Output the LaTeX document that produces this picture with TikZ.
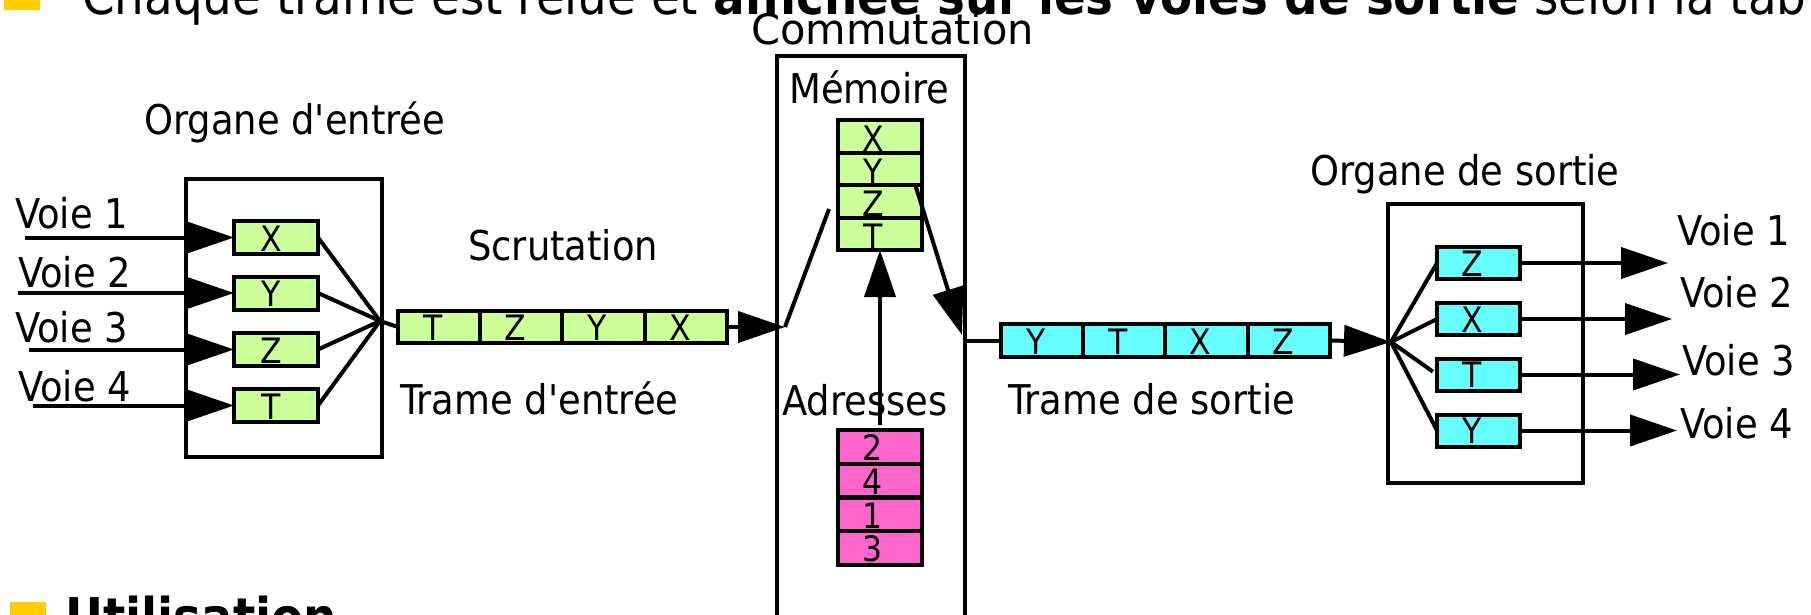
\documentclass[tikz,border=0pt]{standalone}
\usepackage{fontspec}
\setmainfont{DejaVu Sans Condensed}
\usetikzlibrary{arrows.meta,calc}
\definecolor{cgreen}{HTML}{CCFF99}
\definecolor{ccyan}{HTML}{66FFFF}
\definecolor{cpink}{HTML}{FF66CC}
\definecolor{cyellow}{HTML}{FFCC00}
\tikzset{
  box/.style={draw, line width=4pt, inner sep=0pt, outer sep=0pt},
  cell/.style={draw, line width=4pt, inner sep=0pt, outer sep=0pt, minimum width=84pt, minimum height=33pt},
  gcell/.style={cell, fill=cgreen},
  ccell/.style={cell, fill=ccyan},
  pcell/.style={cell, fill=cpink},
  lbl/.style={inner sep=0pt, anchor=base west, font=\fontsize{41}{49}\selectfont},
  lett/.style={inner sep=0pt, anchor=base, font=\fontsize{35}{42}\selectfont},
  conn/.style={line width=4pt},
  arr/.style={conn, -{Triangle[length=47pt,width=31pt]}},
  bullet/.style={fill=cyellow, inner sep=0pt, minimum size=36pt},
}
\begin{document}
\begin{tikzpicture}[x=1pt,y=-1pt]
\useasboundingbox (0,0) rectangle (1811,615);
\clip (0,0) rectangle (1811,615);

% title line (cut at top) and bottom bullet
\node[bullet] (b1) at (22,-8) {};
\node[anchor=base west, inner sep=0pt, font=\fontsize{52}{60}\selectfont] (title) at (82,15)
  {Chaque trame est relue et \textbf{affichée sur les voies de sortie} selon la tab};
\node[bullet] (b2) at (28,620) {};
\node[anchor=base west, inner sep=0pt, font=\bfseries\fontsize{52}{60}\selectfont] (util) at (65,635) {Utilisation};

% ---------------- input organ
\node[box, minimum width=196pt, minimum height=278pt] (inbox) at (284,318) {};
\node[lbl] (lOE) at (144,135) {Organe d\textquotesingle entrée};
\foreach \n/\y in {X/237.5, Y/293, Z/349.5, T/405.5}
  \node[gcell] (in\n) at (276,\y) {};
\foreach \n in {X,Y,Z,T}
  \node[lett] (inL\n) at ($(in\n.south)+(-5,-3)$) {\n};

\node[lbl] (v1) at (15,228) {Voie 1};
\node[lbl] (v2) at (18,287) {Voie 2};
\node[lbl] (v3) at (15,342) {Voie 3};
\node[lbl] (v4) at (18,401) {Voie 4};
\coordinate (s1) at (25,237.5);
\coordinate (s2) at (18,293);
\coordinate (s3) at (29,349.5);
\coordinate (s4) at (33,405.5);
\draw[arr] (s1) -- (inX.west);
\draw[arr] (s2) -- (inY.west);
\draw[arr] (s3) -- (inZ.west);
\draw[arr] (s4) -- (inT.west);

% input frame
\coordinate (fanin) at (380,321);
\foreach \i/\x in {1/439.1, 2/521.4, 3/603.6, 4/685.9}
  \node[gcell, minimum width=82.25pt, minimum height=32pt] (fi\i) at (\x,327) {};
\foreach \i/\l in {1/T, 2/Z, 3/Y, 4/X}
  \node[lett] (fiL\i) at ($(fi\i.south)+(-6,-3)$) {\l};
\foreach \n in {X,Y,Z,T}
  \draw[conn] (in\n.east) -- (fanin);
\draw[conn] (fanin) -- (fi1.west);
\node[lbl] (lScr) at (468,260) {Scrutation};
\node[lbl] (lTE) at (400,414) {Trame d\textquotesingle entrée};

% ---------------- commutation
\node[box, minimum width=188pt, minimum height=584pt] (comm) at (871,348) {};
\node[lbl, font=\fontsize{42}{50}\selectfont] (lCom) at (751,45) {\scalebox{1.1}[1]{Commutation}};
\node[lbl] (lMem) at (789,103) {Mémoire};
\node[lbl] (lAdr) at (782,415) {Adresses};

\foreach \i/\y in {1/136.25, 2/168.75, 3/201.25, 4/233.75}
  \node[gcell, minimum height=32.5pt] (m\i) at (880,\y) {};
\foreach \i/\l in {1/X, 2/Y, 3/Z, 4/T}
  \node[lett] (mL\i) at ($(m\i.south)+(-7,-1)$) {\l};

\foreach \i/\y in {1/446.9, 2/480.6, 3/514.4, 4/548.1}
  \node[pcell, minimum height=33.75pt] (a\i) at (880,\y) {};
\foreach \i/\l in {1/2, 2/4, 3/1, 4/3}
  \node[lett] (aL\i) at ($(a\i.south)+(-7,-3)$) {\l};

\coordinate (cin) at (785,327);
\coordinate (memL) at (829,209);
\coordinate (memR) at (915,184);
\coordinate (cout) at (962,335);
\coordinate (adr) at (880,425);
\coordinate (cline) at (965,340.5);
\draw[arr] (fi4.east) -- (cin);
\draw[conn] (memL) -- (cin);
\draw[arr] (adr) -- (m4.south);
\draw[arr] (memR) -- (cout);

% ---------------- output frame
\foreach \i/\x in {1/1042.1, 2/1124.4, 3/1206.6, 4/1288.9}
  \node[ccell, minimum width=82.25pt, minimum height=33pt] (fo\i) at (\x,340.5) {};
\foreach \i/\l in {1/Y, 2/T, 3/X, 4/Z}
  \node[lett] (foL\i) at ($(fo\i.south)+(-6,-3)$) {\l};
\draw[conn] (cline) -- (fo1.west);
\node[lbl] (lTS) at (1008,414) {Trame de sortie};

% ---------------- output organ
\coordinate (fanout) at (1391,342);
\draw[arr] (fo4.east) -- (fanout);
\node[box, minimum width=195pt, minimum height=279pt] (outbox) at (1485.5,343.5) {};
\node[lbl] (lOS) at (1310,185) {Organe de sortie};
\foreach \n/\y in {Z/263, X/319, T/374.5, Y/430.5}
  \node[ccell, minimum width=83pt, minimum height=32pt] (o\n) at (1478.5,\y) {};
\foreach \n in {Z,X,T,Y}
  \node[lett] (oL\n) at ($(o\n.south)+(-6,-3)$) {\n};
\draw[conn] (fanout) -- (oZ.west);
\draw[conn] (fanout) -- (oX.west);
\draw[conn, shorten >=5pt] (fanout) -- (oT.west);
\draw[conn] (fanout) -- (oY.west);

\coordinate (t1) at (1668,263);
\coordinate (t2) at (1672,319);
\coordinate (t3) at (1680,374.5);
\coordinate (t4) at (1677,430.5);
\draw[arr] (oZ.east) -- (t1);
\draw[arr] (oX.east) -- (t2);
\draw[arr] (oT.east) -- (t3);
\draw[arr] (oY.east) -- (t4);
\node[lbl] (w1) at (1677,245) {Voie 1};
\node[lbl] (w2) at (1680,307) {Voie 2};
\node[lbl] (w3) at (1682,375) {Voie 3};
\node[lbl] (w4) at (1680,438) {Voie 4};
\end{tikzpicture}
\end{document}
